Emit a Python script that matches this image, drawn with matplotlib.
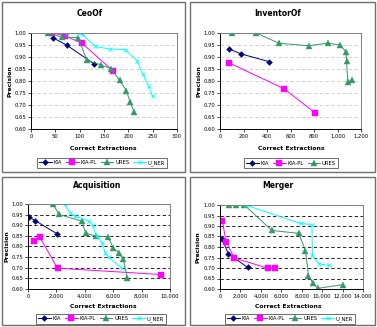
import numpy as np
import matplotlib
matplotlib.use("Agg")
import matplotlib.pyplot as plt
from matplotlib.patches import Rectangle
from matplotlib.ticker import FuncFormatter, MultipleLocator

W, H = 377, 327

# ---- data ----
ceo_kia_x = [46, 73, 130]
ceo_kia_y = [0.979, 0.950, 0.871]
ceo_kiapl_x = [44, 69, 105, 168]
ceo_kiapl_y = [1.00, 0.989, 0.957, 0.843]
ceo_ures_x = [34, 64, 97, 115, 143, 165, 182, 196, 204, 212]
ceo_ures_y = [1.00, 0.983, 0.981, 0.886, 0.868, 0.851, 0.803, 0.760, 0.711, 0.669]
ceo_uner_x = [73, 106, 132, 163, 194, 218, 230, 242, 250]
ceo_uner_y = [1.00, 0.994, 0.944, 0.933, 0.931, 0.885, 0.829, 0.778, 0.736]

inv_kia_x = [80, 179, 415]
inv_kia_y = [0.933, 0.913, 0.881]
inv_kiapl_x = [80, 545, 810]
inv_kiapl_y = [0.875, 0.768, 0.667]
inv_ures_x = [102, 310, 503, 756, 918, 1023, 1074, 1077, 1088, 1125]
inv_ures_y = [1.00, 1.00, 0.957, 0.947, 0.958, 0.949, 0.921, 0.882, 0.797, 0.803]

acq_kia_x = [50, 500, 2020]
acq_kia_y = [0.940, 0.922, 0.861]
acq_kiapl_x = [420, 840, 2080, 9400]
acq_kiapl_y = [0.824, 0.843, 0.698, 0.668]
acq_ures_x = [1760, 2180, 3800, 4050, 4780, 5650, 6000, 6400, 6720, 7000]
acq_ures_y = [1.00, 0.951, 0.919, 0.864, 0.848, 0.845, 0.793, 0.771, 0.739, 0.652]
acq_uner_x = [2580, 2980, 3320, 4300, 4550, 4830, 5230, 5420, 5700, 6600]
acq_uner_y = [1.00, 0.956, 0.943, 0.919, 0.900, 0.850, 0.818, 0.771, 0.750, 0.698]

mrg_kia_x = [200, 820, 2710]
mrg_kia_y = [0.838, 0.767, 0.703]
mrg_kiapl_x = [230, 590, 1400, 4740, 5390]
mrg_kiapl_y = [0.925, 0.825, 0.748, 0.698, 0.702]
mrg_ures_x = [850, 1570, 2390, 5070, 7710, 8370, 8660, 9090, 9580, 12030]
mrg_ures_y = [1.00, 1.00, 1.00, 0.879, 0.865, 0.783, 0.664, 0.629, 0.603, 0.621]
mrg_uner_x = [2500, 7900, 9000, 9050, 9700, 10700]
mrg_uner_y = [1.00, 0.912, 0.907, 0.760, 0.720, 0.712]

labels = ["KIA", "KIA-PL", "URES", "U_NER"]
colors = ["#000080", "#FF00FF", "#339966", "#00FFFF"]
markers = ["D", "s", "^", "x"]
msizes = [3.0, 4.5, 4.0, 2.2]

fig = plt.figure(figsize=(W / 100, H / 100), dpi=100)


def px_rect(l, t, r, b):
    return [l / W, 1 - b / H, (r - l) / W, (b - t) / H]


# panel frames
for (l, t, r, b) in [(2, 2, 185, 172), (190, 2, 375, 172),
                     (2, 177, 185, 325), (190, 177, 375, 325)]:
    fig.patches.append(Rectangle((l / W, 1 - b / H), (r - l) / W, (b - t) / H,
                                 transform=fig.transFigure, fill=False,
                                 edgecolor="#707070", linewidth=1.0))


def panel(box, title, title_xy, xlab_xy, leg_xy, ylab_x, series, xmax, xstep, grid_color):
    ax = fig.add_axes(px_rect(*box))
    for i, (x, y) in enumerate(series):
        ax.plot(x, y, color=colors[i], marker=markers[i], markersize=msizes[i],
                linewidth=0.7, markeredgewidth=0.6 if markers[i] == "x" else 0.3,
                label=labels[i])
    ax.set_xlim(0, xmax)
    ax.set_ylim(0.6, 1.0)
    ax.xaxis.set_major_locator(MultipleLocator(xstep))
    ax.yaxis.set_major_locator(MultipleLocator(0.05))
    ax.xaxis.set_major_formatter(FuncFormatter(lambda v, p: f"{int(v):,}"))
    ax.yaxis.set_major_formatter(FuncFormatter(lambda v, p: f"{v:.2f}"))
    ax.tick_params(labelsize=3.8, length=2, width=0.5, pad=1.5, colors="black")
    ax.grid(axis="y", color=grid_color, linestyle=(0, (4, 3)), linewidth=0.6)
    ax.set_axisbelow(True)
    for s in ax.spines.values():
        s.set_color("#808080")
        s.set_linewidth(0.7)
    ax.spines["left"].set_color("black")
    ax.spines["bottom"].set_color("black")
    fig.text(title_xy[0] / W, 1 - title_xy[1] / H, title, ha="center", va="center",
             fontsize=5.5, fontweight="bold")
    fig.text(xlab_xy[0] / W, 1 - xlab_xy[1] / H, "Correct Extractions", ha="center",
             va="center", fontsize=4.4, fontweight="bold")
    fig.text(ylab_x / W, 1 - (box[1] + box[3]) / 2 / H, "Precision", rotation=90,
             ha="center", va="center", fontsize=4.4, fontweight="bold")
    leg = ax.legend(loc="center", bbox_to_anchor=(leg_xy[0] / W, 1 - leg_xy[1] / H),
                    bbox_transform=fig.transFigure, ncol=len(series), fontsize=3.8,
                    frameon=True, fancybox=False, handlelength=2.4, handletextpad=0.3,
                    columnspacing=0.8, borderpad=0.4, borderaxespad=0)
    leg.get_frame().set_edgecolor("black")
    leg.get_frame().set_linewidth(0.5)
    return ax


panel((31, 33, 177, 129), "CeoOf", (90, 14), (103, 149), (102, 163), 10,
      [(ceo_kia_x, ceo_kia_y), (ceo_kiapl_x, ceo_kiapl_y),
       (ceo_ures_x, ceo_ures_y), (ceo_uner_x, ceo_uner_y)],
      300, 50, "#C8C8C8")
panel((220, 33, 361, 129), "InventorOf", (278, 14), (291, 149), (291, 163), 199,
      [(inv_kia_x, inv_kia_y), (inv_kiapl_x, inv_kiapl_y),
       (inv_ures_x, inv_ures_y)],
      1200, 200, "#C8C8C8")
panel((28, 204, 170, 289), "Acquisition", (97, 186), (103, 306), (101, 319), 7,
      [(acq_kia_x, acq_kia_y), (acq_kiapl_x, acq_kiapl_y),
       (acq_ures_x, acq_ures_y), (acq_uner_x, acq_uner_y)],
      10000, 2000, "#000000")
panel((220, 205, 363, 289), "Merger", (278, 186), (288, 306), (290, 319), 198,
      [(mrg_kia_x, mrg_kia_y), (mrg_kiapl_x, mrg_kiapl_y),
       (mrg_ures_x, mrg_ures_y), (mrg_uner_x, mrg_uner_y)],
      14000, 2000, "#000000")

fig.savefig("out.png", dpi=100)
